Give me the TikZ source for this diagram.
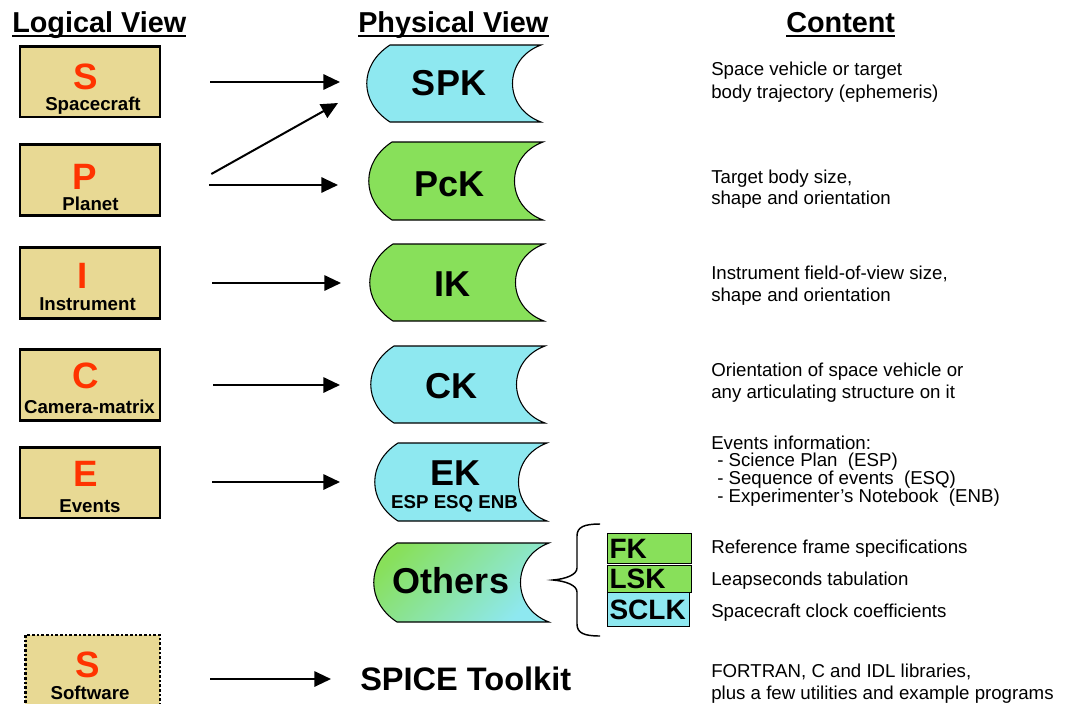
\documentclass[tikz,border=0pt]{standalone}
\usepackage{fontspec}
\setmainfont{Liberation Sans}
\usetikzlibrary{arrows.meta}
\definecolor{cbox}{RGB}{232,217,148}
\definecolor{cred}{RGB}{255,51,0}
\definecolor{ccyan}{RGB}{142,232,240}
\definecolor{cgreen}{RGB}{136,224,90}
\tikzset{
  lbox/.style={draw, line width=2pt, fill=cbox, minimum width=105pt, minimum height=53pt, inner sep=0pt},
  letter/.style={anchor=base, inner sep=0pt, text=cred, font=\fontsize{27.5}{30}\selectfont\bfseries},
  lbl/.style={anchor=base, inner sep=0pt, font=\fontsize{14}{16}\selectfont\bfseries},
  head/.style={anchor=base west, inner sep=0pt, font=\fontsize{21.6}{24}\selectfont\bfseries},
  plabel/.style={anchor=base, inner sep=0pt, font=\fontsize{27}{30}\selectfont\bfseries},
  ctext/.style={anchor=base west, inner sep=0pt, font=\fontsize{14}{16}\selectfont},
  arr/.style={line width=1.5pt, -{Triangle[length=12.5pt,width=11.5pt]}},
  pshp/.style={draw, line width=0.8pt},
  kbox/.style={draw, line width=0.8pt, anchor=north west, inner xsep=1.5pt, inner ysep=0pt, text width=60pt, align=left, font=\fontsize{21}{23}\selectfont\bfseries},
  uline/.style={line width=1.5pt}
}
\newcommand\pshape[5]{\path[pshp,#5] (#1+25,#2) -- (#3,#2) .. controls (#3-38,#2+14) and (#3-38,#4-14) .. (#3,#4) -- (#1+25,#4) .. controls (#1-6,#4-20) and (#1-6,#2+20) .. cycle;}
\begin{document}
\begin{tikzpicture}[x=0.75pt,y=-0.75pt]
\useasboundingbox (0,0) rectangle (1069,703);
% headers
\node[head] (LV) at (12,32) {Logical View};
\node[head] (PV) at (358,32) {Physical View};
\node[head] (CT) at (786,32) {Content};
\foreach \h in {LV,PV,CT}{\draw[uline] ([shift={(0,4)}]\h.base west) -- ([shift={(0,4)}]\h.base east);}
% logical boxes
\node[lbox] (S) at (90,81.5) {};
\node[letter] (Sl) at (86,89) {S};
\node[lbl] (St) at (93,110) {Spacecraft};
\node[lbox] (P) at (90,180) {};
\node[letter] (Pl) at (85,189) {P};
\node[lbl] (Pt) at (90.5,210) {Planet};
\node[lbox] (I) at (90,283) {};
\node[letter] (Il) at (83,288) {I};
\node[lbl] (It) at (87.5,310) {Instrument};
\node[lbox] (C) at (90,385) {};
\node[letter] (Cl) at (86,388) {C};
\node[lbl] (Ct) at (89.5,413) {Camera-matrix};
\node[lbox] (E) at (90,482.5) {};
\node[letter] (El) at (86,486) {E};
\node[lbl] (Et) at (90,512) {Events};
\node[lbox, dash pattern=on 2pt off 1.5pt, minimum width=101pt, minimum height=67.5pt] (SW) at (92.5,680) {};
\node[letter] (SWl) at (88,677) {S};
\node[lbl] (SWt) at (90,699) {Software};
% physical shapes
\pshape{365}{45}{541}{122}{fill=ccyan}
\pshape{367}{142}{543}{220}{fill=cgreen}
\pshape{368}{244}{544}{321}{fill=cgreen}
\pshape{369}{346}{545}{423}{fill=ccyan}
\pshape{373}{443}{547}{521}{fill=ccyan}
\pshape{372}{543}{549}{622}{top color=cgreen, bottom color=ccyan, shading angle=45}
\coordinate (SPKw) at (365,83.5);
\coordinate (PcKw) at (367,181);
\coordinate (IKw) at (368,282.5);
\coordinate (CKw) at (369,384.5);
\coordinate (EKw) at (373,482);
\node[plabel] (SPK) at (449,95) {SPK};
\node[plabel] (PcK) at (449.5,196) {PcK};
\node[plabel] (IK) at (452,296) {IK};
\node[plabel] (CK) at (451,398) {CK};
\node[plabel] (EK) at (455,485) {EK};
\node[lbl] (ESP) at (454.5,508) {ESP ESQ ENB};
\node[plabel] (OT) at (451,593) {Others};
\node[anchor=base west, inner sep=0pt, font=\fontsize{24.4}{26}\selectfont\bfseries] (SPICE) at (360,690) {SPICE Toolkit};
% arrows
\draw[arr] ([shift={(49,0.5)}]S.east) -- ([shift={(-25,-1.5)}]SPKw);
\draw[arr] ([shift={(50,-6)}]P.east) -- ([shift={(-27,19.5)}]SPKw);
\draw[arr] ([shift={(48,5)}]P.east) -- ([shift={(-29,4)}]PcKw);
\draw[arr] ([shift={(51,0)}]I.east) -- ([shift={(-27,0.5)}]IKw);
\draw[arr] ([shift={(52,0)}]C.east) -- ([shift={(-29,0.5)}]CKw);
\draw[arr] ([shift={(51,-0.5)}]E.east) -- ([shift={(-33,0)}]EKw);
\draw[arr] ([shift={(49,-1)}]SW.east) -- ([shift={(-29,-11)}]SPICE.base west);
% brace
\draw[line width=1.1pt] (600,524) .. controls (584,524) and (577,527) .. (577,536) -- (577,568) .. controls (577,575) and (565,579) .. (553,580) .. controls (565,581) and (577,585) .. (577,592) -- (577,624) .. controls (577,633) and (584,636) .. (600,636);
% kernel boxes
\node[kbox, fill=cgreen, minimum height=22.5pt] (FK) at (607,533) {FK};
\node[kbox, fill=cgreen, minimum height=20.25pt] (LSK) at (607,565) {LSK};
\node[kbox, fill=ccyan, minimum height=25.5pt, text width=58.5pt] (SCLK) at (607,592) {SCLK};
% content texts
\node[ctext] (c1a) at (711,75) {Space vehicle or target};
\node[ctext] (c1b) at (711,98) {body trajectory (ephemeris)};
\node[ctext] (c2a) at (711,183) {Target body size,};
\node[ctext] (c2b) at (711,204) {shape and orientation};
\node[ctext] (c3a) at (711,279) {Instrument field-of-view size,};
\node[ctext] (c3b) at (711,301) {shape and orientation};
\node[ctext] (c4a) at (711,376) {Orientation of space vehicle or};
\node[ctext] (c4b) at (711,398) {any articulating structure on it};
\node[ctext] (c5a) at (711,449) {Events information:};
\node[ctext] (c5b) at (717,466.8) {- Science Plan~ (ESP)};
\node[ctext] (c5c) at (717,484.6) {- Sequence of events~ (ESQ)};
\node[ctext] (c5d) at (717,502.4) {- Experimenter’s Notebook~ (ENB)};
\node[ctext] (c6) at (711,553) {Reference frame specifications};
\node[ctext] (c7) at (711,585) {Leapseconds tabulation};
\node[ctext] (c8) at (711,617) {Spacecraft clock coefficients};
\node[ctext] (c9a) at (711,677) {FORTRAN, C and IDL libraries,};
\node[ctext] (c9b) at (711,699) {plus a few utilities and example programs};
\end{tikzpicture}
\end{document}
